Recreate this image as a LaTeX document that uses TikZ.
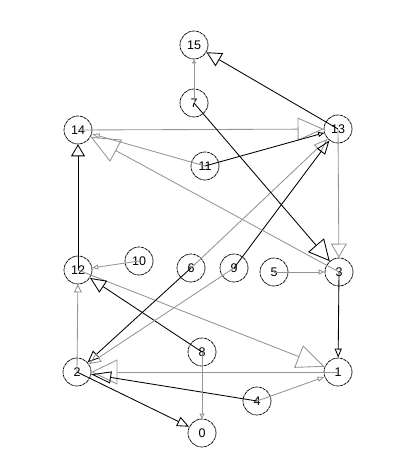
\documentclass[tikz,border=0pt]{standalone}
\usepackage{fontspec}
\setmainfont{Liberation Sans}
\usetikzlibrary{arrows.meta}
\begin{document}
\begin{tikzpicture}[x=1pt,y=-1pt,
  vtx/.style={circle,draw=black,minimum size=28pt,inner sep=0pt,line width=0.7pt,dash pattern=on 3.5pt off 0.7pt,font=\fontsize{12.5}{12.5}\selectfont},
  bl/.style={draw=black,line width=0.85pt},
  gr/.style={draw=black!42,line width=0.85pt},
  hd/.style 2 args={-{Triangle[open,length=#1pt,width=#2pt]}},
]
\useasboundingbox (0,0) rectangle (415,470);
\node[vtx] (n15) at (194,45) {15};
\node[vtx] (n7) at (194,103) {7};
\node[vtx] (n14) at (78,130) {14};
\node[vtx] (n13) at (338,129) {13};
\node[vtx] (n11) at (205,166) {11};
\node[vtx] (n12) at (78,270) {12};
\node[vtx] (n10) at (139,261) {10};
\node[vtx] (n6) at (191,268) {6};
\node[vtx] (n9) at (234,268) {9};
\node[vtx] (n5) at (274,272) {5};
\node[vtx] (n3) at (339,272) {3};
\node[vtx] (n8) at (202,352) {8};
\node[vtx] (n2) at (77,372) {2};
\node[vtx] (n1) at (338,372) {1};
\node[vtx] (n4) at (257,401) {4};
\node[vtx] (n0) at (202,433) {0};

\draw[gr,hd={4}{4}] (n7.center) -- (n15);
\draw[bl,hd={15}{15}] (n13.center) -- (n15);
\draw[gr,hd={26}{23}] (n14.center) -- (n13);
\draw[bl,hd={6}{5}] (n11.center) -- (n13);
\draw[gr,hd={14}{10}] (n6.center) -- (n13);
\draw[bl,hd={14}{10}] (n9.center) -- (n13);
\draw[gr,hd={8}{5}] (n11.center) -- (n14);
\draw[gr,hd={29}{25}] (n3.center) -- (n14);
\draw[bl,hd={12}{14}] (n12.center) -- (n14);
\draw[bl,hd={21}{21}] (n7.center) -- (n3);
\draw[gr,hd={14}{16}] (n13.center) -- (n3);
\draw[gr,hd={6}{5}] (n5.center) -- (n3);
\draw[bl,hd={9}{7}] (n3.center) -- (n1);
\draw[gr,hd={28}{24}] (n12.center) -- (n1);
\draw[gr,hd={7}{5}] (n4.center) -- (n1);
\draw[gr,hd={6}{5}] (n10.center) -- (n12);
\draw[bl,hd={16}{14}] (n8.center) -- (n12);
\draw[gr,hd={8}{8}] (n2.center) -- (n12);
\draw[bl,hd={12}{10}] (n6.center) -- (n2);
\draw[gr,hd={12}{10}] (n9.center) -- (n2);
\draw[gr,hd={26}{25}] (n1.center) -- (n2);
\draw[bl,hd={20}{12}] (n4.center) -- (n2);
\draw[bl,hd={12}{10}] (n2.center) -- (n0);
\draw[gr,hd={5}{5}] (n8.center) -- (n0);
\end{tikzpicture}
\end{document}
